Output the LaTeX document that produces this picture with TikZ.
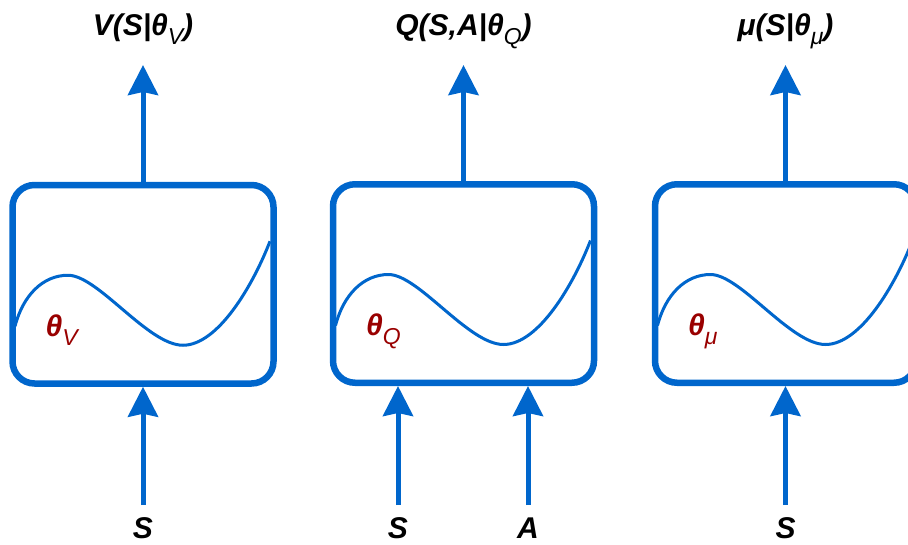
\documentclass[tikz,border=0pt]{standalone}
\usepackage{fontspec}
\setmainfont{Liberation Sans}
\usetikzlibrary{arrows.meta}
\definecolor{netblue}{HTML}{0066CC}
\definecolor{parred}{HTML}{990000}
\newcommand\idx[1]{\raisebox{-.3em}{\fontsize{23}{26}\selectfont\mdseries #1}}
\begin{document}
\begin{tikzpicture}[x = 1pt, y = -1pt,
    netbox/.style = {draw = netblue, line width = 6.5pt, rounded corners = 22pt,
                     minimum width = 261pt, minimum height = 198.5pt},
    flow/.style = {draw = netblue, line width = 5pt,
                   -{Stealth[length = 30pt, width = 30pt, inset = 3pt]}},
    iolabel/.style = {font = \fontsize{30}{34}\selectfont\bfseries\itshape,
                      inner sep = 0pt, anchor = base},
    param/.style = {iolabel, text = parred, anchor = base west}]
      \useasboundingbox (0,0) rectangle (908,544);
      \node [netbox] (v) at (143,284.25) {};
      \node [netbox] (q) at (463.5,283.5) {};
      \node [netbox] (m) at (785.5,283.5) {};
      \foreach \n/\s in {v/V, q/Q, m/μ} {
        \draw [netblue, line width = 3pt, shift = {(\n.center)}]
          (-128,42) .. controls (-120,11) and (-100,-9) .. (-75,-9)
          .. controls (-45,-9) and (5,61) .. (40,61)
          .. controls (75,61) and (110,1) .. (127,-43);
        \node [param] (\n-theta) at ([shift = {(-97.5,52)}] \n.center)
          {θ\idx{\s}};
      }
      \node [iolabel] (vout) at (143,35) {V(S|θ\idx{V})};
      \node [iolabel] (qout) at (463.5,35) {Q(S,A|θ\idx{Q})};
      \node [iolabel] (mout) at (785.5,35) {μ(S|θ\idx{μ})};
      \node [iolabel] (vs) at (143,538) {S};
      \node [iolabel] (qs) at (398,538) {S};
      \node [iolabel] (qa) at (528,538) {A};
      \node [iolabel] (ms) at (785.5,538) {S};
      \draw [flow, shorten > = 30pt] (v) -- (vout.base);
      \draw [flow, shorten > = 30pt] (q) -- (qout.base);
      \draw [flow, shorten > = 30pt] (m) -- (mout.base);
      \draw [flow, shorten < = 33pt] (vs.base) -- (v);
      \draw [flow, shorten < = 33pt] (qs.base) -- (qs |- q.south);
      \draw [flow, shorten < = 33pt] (qa.base) -- (qa |- q.south);
      \draw [flow, shorten < = 33pt] (ms.base) -- (m);
    \end{tikzpicture}
\end{document}
